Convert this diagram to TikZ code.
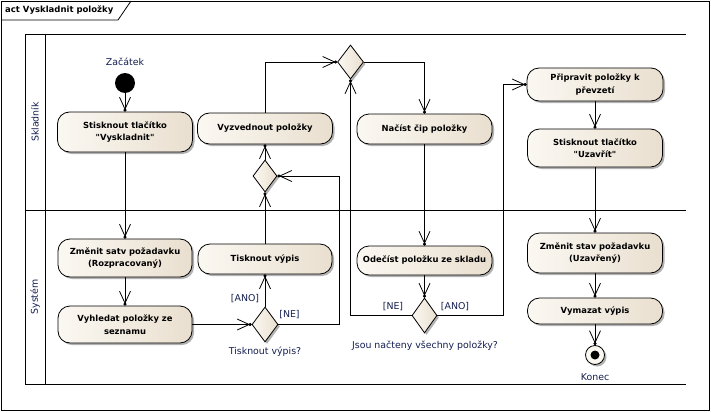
\documentclass[tikz,border=0pt]{standalone}
\usepackage{fontspec}
\setmainfont{DejaVu Sans}[Ligatures=TeXOff]
\usetikzlibrary{arrows.meta,shapes.geometric,shadows}
\definecolor{boxL}{RGB}{251,248,242}
\definecolor{boxR}{RGB}{233,223,207}
\definecolor{lbl}{RGB}{20,30,80}
\tikzset{
  shad/.style={drop shadow={shadow xshift=2pt,shadow yshift=-2pt,opacity=0.3,fill=black}},
  act/.style={draw, line width=0.8pt, rounded corners=12pt, left color=boxL, right color=boxR,
    minimum width=135pt, inner sep=0pt, align=center, shad,
    font=\bfseries\fontsize{8.4}{12.5}\selectfont},
  dec/.style={diamond, draw, line width=0.8pt, left color=boxL, right color=boxR,
    inner sep=0pt, minimum width=26pt, minimum height=34pt, shad},
  lab/.style={font=\fontsize{9.4}{11}\selectfont, text=lbl, inner sep=0pt},
  flow/.style={draw, line width=0.8pt,
    -{Straight Barb[length=12pt,width=11pt,sep=-1.5pt]Circle[length=3pt]}},
  frame/.style={line width=0.8pt}
}
\begin{document}
\begin{tikzpicture}[x=1pt,y=-1pt]
\useasboundingbox (0,0) rectangle (711,412);
% outer frame and title tab
\draw[frame] (1,1) rectangle (709,410);
\draw[frame] (1,20) -- (118,20) -- (131,1);
\node[anchor=west, inner sep=0pt, font=\bfseries\fontsize{8.5}{10}\selectfont] (title) at (5,10.5) {act Vyskladnit položky};
% swimlanes
\draw[frame] (686,34) -- (25,34) -- (25,384) -- (686,384);
\draw[frame] (45,34) -- (45,384);
\draw[frame] (25,210) -- (686,210);
\node[lab, rotate=90] (lane1) at (35,122) {Skladník};
\node[lab, rotate=90] (lane2) at (35,297) {Systém};
% nodes
\node[circle, fill=black, minimum size=20pt, inner sep=0pt] (start) at (125,83) {};
\node[lab] (startl) at (125,62) {Začátek};
\node[act, minimum height=40pt] (a1) at (125,132) {Stisknout tlačítko\\"Vyskladnit"};
\node[act, minimum height=31pt] (a2) at (265,128.5) {Vyzvednout položky};
\node[dec] (m1) at (350.5,62) {};
\node[act, minimum height=30pt] (a3) at (424.5,129) {Načíst čip položky};
\node[dec, minimum width=24pt, minimum height=32pt] (d2) at (265,176) {};
\node[act, minimum height=33pt, minimum width=136pt] (a4) at (595,84.5) {Připravit položky k\\převzetí};
\node[act, minimum height=38pt] (a5) at (595,148) {Stisknout tlačítko\\"Uzavřít"};
\node[act, minimum height=38pt, minimum width=134pt] (a6) at (125,258) {Změnit satv požadavku\\(Rozpracovaný)};
\node[act, minimum height=37pt, minimum width=134pt] (a7) at (125,324.5) {Vyhledat položky ze\\seznamu};
\node[act, minimum height=30pt, minimum width=134pt] (a8) at (265,259) {Tisknout výpis};
\node[dec, minimum height=35pt] (d1) at (265,324.5) {};
\node[lab] (d1l) at (265,352) {Tisknout výpis?};
\node[act, minimum height=29pt] (a9) at (424.5,260.5) {Odečíst položku ze skladu};
\node[dec, minimum width=25pt, minimum height=35pt] (d3) at (424.5,315.5) {};
\node[lab] (d3l) at (425,346) {Jsou načteny všechny položky?};
\node[act, minimum height=40pt] (a10) at (595,253) {Změnit stav požadavku\\(Uzavřený)};
\node[act, minimum height=26pt] (a11) at (595,311) {Vymazat výpis};
\node[circle, draw, line width=0.8pt, fill=boxL, minimum size=19pt, inner sep=0pt, shad] (end) at (595,355) {};
\fill (end.center) circle (4.5pt);
\node[lab] (endl) at (595,377) {Konec};
% guard labels
\node[lab] (g1) at (245,299) {[ANO]};
\node[lab] (g2) at (289.5,315) {[NE]};
\node[lab] (g3) at (393,307) {[NE]};
\node[lab] (g4) at (455,307) {[ANO]};
% connectors
\coordinate (c1) at (339,176);
\coordinate (c2) at (503,315.5);
\draw[flow] (start) -- (a1);
\draw[flow] (a1) -- (a6);
\draw[flow] (a6) -- (a7);
\draw[flow] (a7) -- (d1);
\draw[flow] (d1) -- (a8);
\draw[flow] (d1.east) -| (c1) -- (d2.east);
\draw[flow] (a8) -- (d2);
\draw[flow] (d2) -- (a2);
\draw[flow] (a2.north) |- (m1.west);
\draw[flow] (m1.east) -| (a3.north);
\draw[flow] (a3) -- (a9);
\draw[flow] (a9) -- (d3);
\draw[flow] (d3.west) -| (m1.south);
\draw[flow] (d3.east) -- (c2) |- (a4.west);
\draw[flow] (a4) -- (a5);
\draw[flow] (a5) -- (a10);
\draw[flow] (a10) -- (a11);
\draw[flow] (a11) -- (end);
\end{tikzpicture}
\end{document}
